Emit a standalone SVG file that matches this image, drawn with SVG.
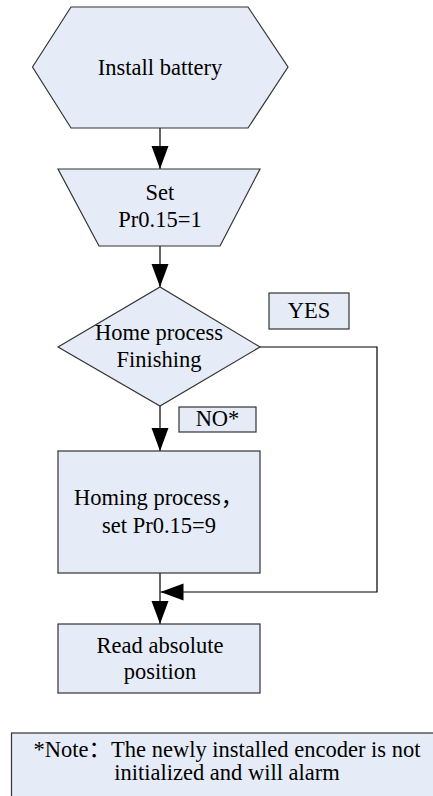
<svg xmlns="http://www.w3.org/2000/svg" width="433" height="796" viewBox="0 0 433 796">
<style>
.n{fill:#E6ECF7;stroke:#333;stroke-width:1.2}
.t{font-family:'Liberation Serif','Times New Roman',serif;font-size:22.5px;fill:#000;text-anchor:middle}
.k{font-family:'Noto Sans CJK SC',sans-serif}
.c{fill:none;stroke:#000;stroke-width:1.2}
</style>
<defs>
<marker id="ah" markerUnits="userSpaceOnUse" markerWidth="24" markerHeight="18" refX="23" refY="8.5" orient="auto" viewBox="0 0 24 18">
<path d="M0,0 L23,8.5 L0,17 z" fill="#000"/>
</marker>
</defs>
<rect width="433" height="796" fill="#fff"/>
<g id="connectors">
<line class="c" x1="160" y1="128" x2="160" y2="169" marker-end="url(#ah)"/>
<line class="c" x1="160" y1="246" x2="160" y2="287" marker-end="url(#ah)"/>
<line class="c" x1="160" y1="406" x2="160" y2="451" marker-end="url(#ah)"/>
<line class="c" x1="160" y1="573" x2="160" y2="624" marker-end="url(#ah)"/>
<path class="c" d="M260,347 H377 V592 H160.5" marker-end="url(#ah)"/>
</g>
<g id="install">
<polygon class="n" points="32.5,67 71,7 248,7 288,67 248,128 71,128"/>
<text class="t" x="160" y="75">Install battery</text>
</g>
<g id="set1">
<polygon class="n" points="58,169 260,169 220,246 99,246"/>
<text class="t" x="160" y="200">Set</text>
<text class="t" x="160" y="227">Pr0.15=1</text>
</g>
<g id="decision">
<polygon class="n" points="58,347 160,287 260,347 160,406"/>
<text class="t" x="159" y="340">Home process</text>
<text class="t" x="159" y="367">Finishing</text>
</g>
<g id="yes">
<rect class="n" x="269" y="293" width="80" height="36"/>
<text class="t" x="309" y="318">YES</text>
</g>
<g id="no">
<rect class="n" x="179" y="407" width="77" height="25"/>
<text class="t" x="217.5" y="426">NO*</text>
</g>
<g id="homing">
<rect class="n" x="58" y="451" width="202" height="122"/>
<text class="t" x="74" y="505" style="text-anchor:start">Homing process<tspan class="k">，</tspan></text>
<text class="t" x="159" y="533">set Pr0.15=9</text>
</g>
<g id="read">
<rect class="n" x="58" y="624" width="202" height="69"/>
<text class="t" x="160" y="653">Read absolute</text>
<text class="t" x="160" y="679">position</text>
</g>
<g id="note">
<rect class="n" x="11.5" y="733" width="430" height="80"/>
<text class="t" x="227" y="757">*Note<tspan class="k">：</tspan>The newly installed encoder is not</text>
<text class="t" x="227" y="780">initialized and will alarm</text>
</g>
</svg>
